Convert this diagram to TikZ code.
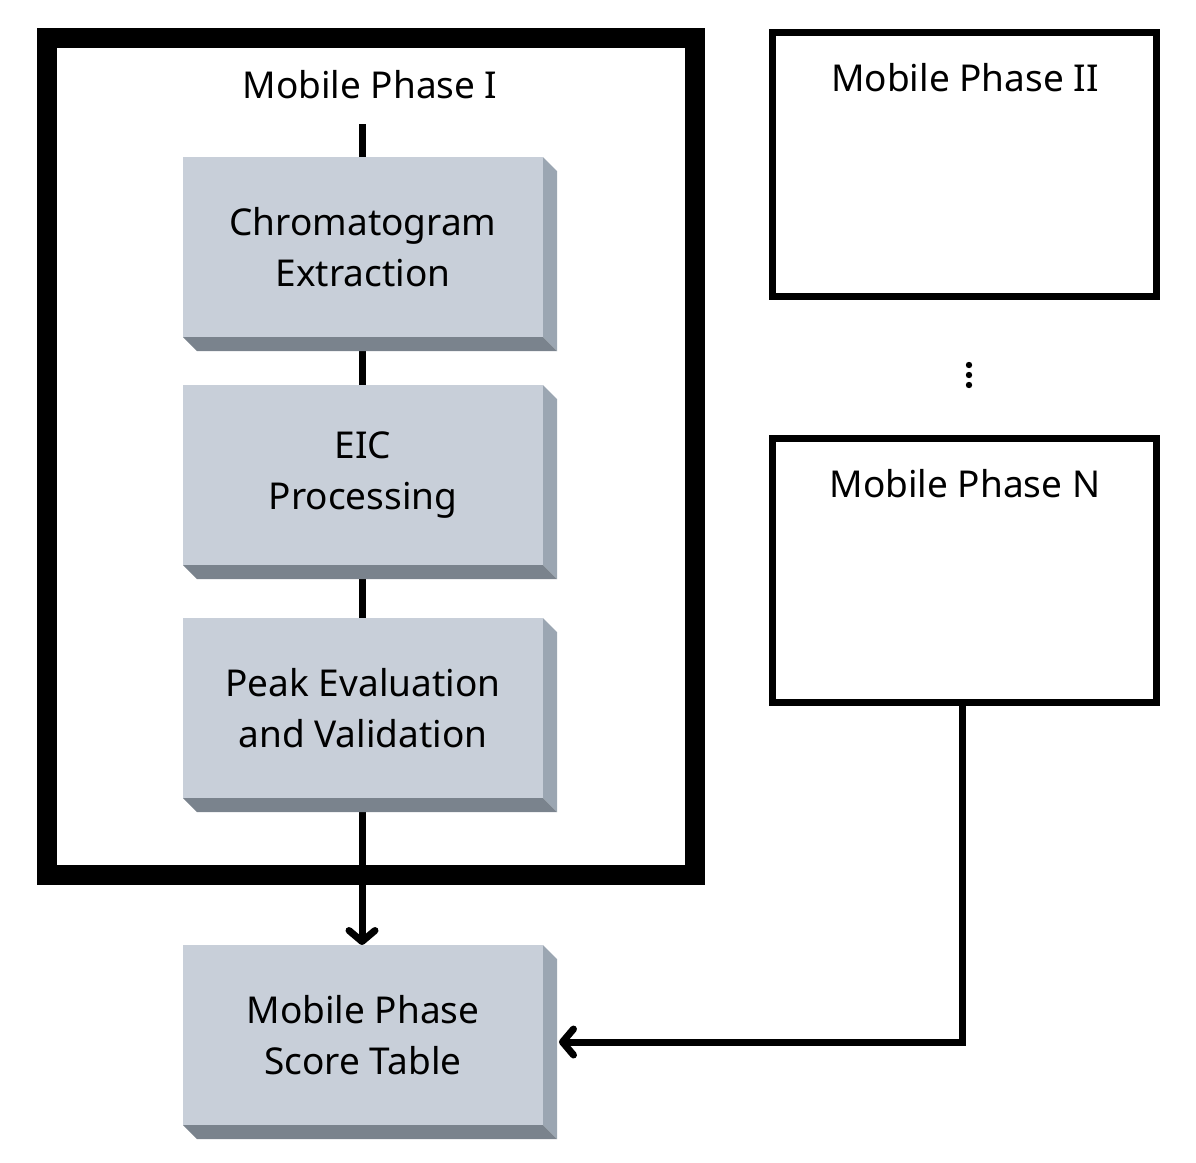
\documentclass[tikz,border=0pt]{standalone}
\usepackage{fontspec}
\setmainfont{Noto Sans}
\usetikzlibrary{positioning,calc,backgrounds,arrows.meta}
\definecolor{slabfront}{HTML}{C8CFD9}
\definecolor{slabside}{HTML}{9BA6B2}
\definecolor{slabbottom}{HTML}{7A838D}
\tikzset{
  slab/.style={
    fill=slabfront,
    minimum width=180pt,
    minimum height=90pt,
    outer sep=0pt,
    align=center,
    font=\fontsize{18.5}{25.5}\selectfont,
  },
  phase box/.style={
    draw=black,
    line width=#1,
    outer sep=0pt,
    inner sep=0pt,
  },
  phase title/.style={
    anchor=base,
    font=\fontsize{18.5}{25.5}\selectfont,
  },
  flow/.style={
    line width=3.5pt,
    -{Straight Barb[length=5.5pt,width=13pt,round]},
  }
}

\begin{document}
\begin{tikzpicture}[x=0.5pt,y=-0.5pt]
  \useasboundingbox (0,0) rectangle (1196,1163);

  \node [phase box=10pt, minimum width=324pt, minimum height=418.5pt] (phaseA) at (370.5,456.5) {};
  \node [phase box=3.5pt, minimum width=192pt, minimum height=132pt] (phaseB) at (964.5,164.5) {};
  \node [phase box=3.5pt, minimum width=192pt, minimum height=132pt] (phaseN) at (964.5,570.5) {};

  \node [phase title] (titleA) at (370,98) {Mobile Phase I};
  \node [phase title] (titleB) at (965,91) {Mobile Phase II};
  \node [phase title] (titleN) at (965,497) {Mobile Phase N};

  \node [slab] (chrom) at (363,247) {Chromatogram\\ Extraction};
  \node [slab, below=24pt of chrom] (eic) {EIC\\ Processing};
  \node [slab, below=26.5pt of eic] (peak) {Peak Evaluation\\ and Validation};
  \node [slab, below=73.5pt of peak] (score) {Mobile Phase\\ Score Table};

  % bevelled edges of the slabs
  \foreach \n in {chrom,eic,peak,score} {
    \fill [slabside] (\n.north east) -- ++(14,14) -- ++(0,180) -- (\n.south east) -- cycle;
    \fill [slabbottom] (\n.south west) -- (\n.south east) -- ++(14,14) -- ++(-360,0) -- cycle;
  }

  \foreach \y in {365,375,385}
    \fill (969,\y) circle (3.2);

  \coordinate (start) at (362,124);
  \begin{scope}[on background layer]
    \draw [flow] (start) -- (start |- score.north);
  \end{scope}
  \draw [flow] ([xshift=-1.25pt]phaseN.south) |- ([xshift=8pt,yshift=-3.5pt]score.east);
\end{tikzpicture}
\end{document}
